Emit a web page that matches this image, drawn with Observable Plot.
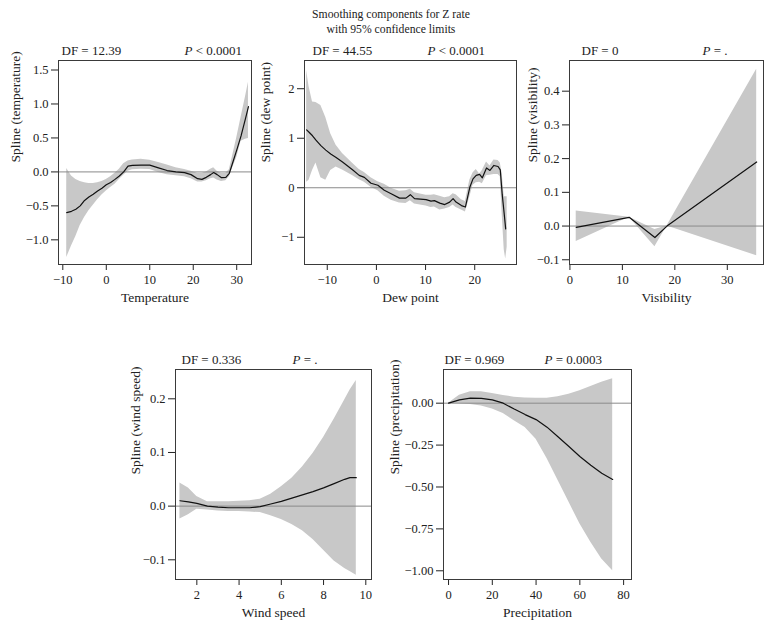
<!DOCTYPE html>
<html><head><meta charset="utf-8">
<script src="https://cdn.jsdelivr.net/npm/d3@7"></script>
<script src="https://cdn.jsdelivr.net/npm/@observablehq/plot@0.6"></script>
<style>
body{margin:0;background:#fff;}
#wrap{position:relative;width:772px;height:630px;overflow:hidden;font-family:"Liberation Serif",serif;color:#222;background:#fff;}
.title{position:absolute;left:0;top:8px;width:782px;text-align:center;font-size:11.7px;line-height:14.5px;}
.panel{position:absolute;}
</style></head><body><div id="wrap"><div class="title" id="title"></div></div>
<script>
// ---------- DATA ----------
const titleText = ["Smoothing components for Z rate", "with 95% confidence limits"];

// Temperature
const tempX   = [-9.1,-8,-7,-6,-5,-4,-3,-2,-1,0,1,2,3,4,5,6,8,10,12,14,16,18,19.5,21,22,23,24,24.7,25.5,26.5,27.5,28.3,29,30,31,32,32.7];
const tempFit = [-0.60,-0.58,-0.55,-0.50,-0.42,-0.37,-0.33,-0.28,-0.24,-0.19,-0.155,-0.11,-0.06,0.0,0.085,0.095,0.10,0.10,0.06,0.02,0.0,-0.01,-0.04,-0.10,-0.11,-0.08,-0.04,-0.01,-0.04,-0.085,-0.08,-0.02,0.12,0.32,0.53,0.78,0.96];
const tempHi  = [0.05,-0.06,-0.11,-0.14,-0.16,-0.17,-0.17,-0.16,-0.14,-0.11,-0.07,-0.02,0.04,0.12,0.16,0.175,0.185,0.17,0.14,0.10,0.06,0.035,0.01,-0.02,-0.02,0.0,0.04,0.06,0.01,-0.02,-0.02,0.03,0.22,0.50,0.80,1.10,1.32];
const tempLo  = [-1.26,-1.09,-0.95,-0.79,-0.67,-0.57,-0.49,-0.41,-0.34,-0.28,-0.23,-0.18,-0.11,-0.05,0.01,0.03,0.04,0.035,-0.01,-0.04,-0.055,-0.07,-0.10,-0.15,-0.15,-0.13,-0.10,-0.09,-0.12,-0.14,-0.13,-0.07,0.05,0.21,0.45,0.48,0.49];

// Dew point
const dewX   = [-14.2,-13.7,-13.0,-12.3,-11.3,-10.3,-9.3,-8.2,-6.9,-4.8,-3.5,-2.45,-1.1,0.3,1.6,3.0,4.7,6.0,6.9,7.75,10.1,11.1,11.8,12.9,13.9,14.9,15.6,16.2,17.3,18.1,19.0,19.65,20.3,21.0,21.55,22.4,23.1,23.9,24.75,25.2,25.6,26.0,26.3,26.6];
const dewFit = [1.17,1.12,1.05,0.96,0.85,0.76,0.68,0.61,0.52,0.36,0.25,0.21,0.09,0.05,-0.05,-0.12,-0.21,-0.21,-0.14,-0.22,-0.24,-0.27,-0.26,-0.31,-0.34,-0.29,-0.22,-0.29,-0.36,-0.39,0.01,0.18,0.25,0.27,0.20,0.40,0.35,0.45,0.43,0.36,-0.14,-0.53,-0.83,null];
const dewHi  = [2.37,2.04,1.73,1.72,1.66,1.42,1.09,0.86,0.69,0.49,0.37,0.31,0.20,0.12,0.07,-0.01,-0.07,-0.06,-0.03,-0.10,-0.15,-0.15,-0.14,-0.17,-0.20,-0.18,-0.12,-0.14,-0.24,-0.28,0.15,0.30,0.37,0.28,0.35,0.52,0.44,0.56,0.55,0.50,0.28,-0.18,-0.18,-0.18];
const dewLo  = [0.11,0.15,0.35,0.50,0.20,0.15,0.35,0.42,0.36,0.24,0.16,0.11,0.01,-0.06,-0.17,-0.25,-0.31,-0.32,-0.26,-0.33,-0.37,-0.40,-0.39,-0.45,-0.43,-0.40,-0.35,-0.40,-0.45,-0.49,-0.19,0.05,0.10,0.11,0.08,0.24,0.25,0.27,0.27,0.22,-0.55,-1.25,-1.44,-1.2];

// Visibility
const visX   = [1.2,11.3,16.2,18.5,35.6];
const visFit = [-0.004,0.026,-0.034,0.0,0.19];
const visHi  = [0.045,0.026,-0.01,0.0,0.465];
const visLo  = [-0.046,0.026,-0.061,0.0,-0.088];

// Wind speed
const windX   = [1.2,1.6,2.0,2.5,3.0,3.5,4.0,4.5,5.0,5.5,6.0,6.5,7.0,7.5,8.0,8.5,9.0,9.25,9.55];
const windFit = [0.010,0.008,0.005,0.0,-0.002,-0.003,-0.003,-0.003,-0.001,0.004,0.009,0.015,0.021,0.027,0.034,0.042,0.050,0.053,0.053];
const windHi  = [0.043,0.034,0.018,0.008,0.008,0.008,0.009,0.010,0.013,0.022,0.036,0.052,0.073,0.098,0.128,0.162,0.198,0.216,0.234];
const windLo  = [-0.024,-0.016,-0.006,-0.007,-0.009,-0.010,-0.010,-0.011,-0.012,-0.018,-0.025,-0.034,-0.046,-0.062,-0.082,-0.102,-0.116,-0.122,-0.129];

// Precipitation
const precX   = [0,5,10,15,20,25,30,35,40,45,50,55,60,65,70,75];
const precFit = [0,0.02,0.03,0.029,0.02,0.0,-0.035,-0.068,-0.098,-0.143,-0.200,-0.258,-0.318,-0.37,-0.418,-0.455];
const precHi  = [0,0.047,0.068,0.068,0.058,0.046,0.036,0.031,0.030,0.030,0.038,0.053,0.074,0.10,0.125,0.146];
const precLo  = [0,-0.004,-0.008,-0.017,-0.035,-0.062,-0.105,-0.145,-0.215,-0.33,-0.46,-0.59,-0.72,-0.83,-0.93,-1.0];

// Axis ticks and labels
const tempXTicks = [-10,0,10,20,30], tempYTicks = [-1.0,-0.5,0,0.5,1.0,1.5];
const dewXTicks = [-10,0,10,20], dewYTicks = [-1,0,1,2];
const visXTicks = [0,10,20,30], visYTicks = [-0.1,0,0.1,0.2,0.3,0.4];
const windXTicks = [2,4,6,8,10], windYTicks = [-0.1,0,0.1,0.2];
const precXTicks = [0,20,40,60,80], precYTicks = [-1,-0.75,-0.5,-0.25,0];
const xLabels = ["Temperature","Dew point","Visibility","Wind speed","Precipitation"];
const yLabels = ["Spline (temperature)","Spline (dew point)","Spline (visibility)","Spline (wind speed)","Spline (precipitation)"];
const dfLabels = ["DF = 12.39","DF = 44.55","DF = 0","DF = 0.336","DF = 0.969"];
const pLabels = ["P < 0.0001","P < 0.0001","P = .","P = .","P = 0.0003"];

// ---------- LAYOUT ----------
const FONT = '"Liberation Serif", serif';
const panels = [
  {L:58, R:251, T:60, B:264, xDomain:[-10.99,33.4], yDomain:[-1.363,1.64], x:tempX, fit:tempFit, lo:tempLo, hi:tempHi, xTicks:tempXTicks, yTicks:tempYTicks, yFmt:d3.format(".1f"), yOff:43, dfDx:3, pDx:126},
  {L:304, R:516, T:60, B:264, xDomain:[-14.63,28.5], yDomain:[-1.55,2.57], x:dewX, fit:dewFit, lo:dewLo, hi:dewHi, xTicks:dewXTicks, yTicks:dewYTicks, yFmt:d3.format("d"), yOff:39, dfDx:8, pDx:123},
  {L:569, R:763, T:60, B:264, xDomain:[-0.08,36.9], yDomain:[-0.114,0.491], x:visX, fit:visFit, lo:visLo, hi:visHi, xTicks:visXTicks, yTicks:visYTicks, yFmt:d3.format(".1f"), yOff:37, dfDx:12, pDx:133},
  {L:175, R:371, T:369, B:579, xDomain:[0.99,10.27], yDomain:[-0.1367,0.2546], x:windX, fit:windFit, lo:windLo, hi:windHi, xTicks:windXTicks, yTicks:windYTicks, yFmt:d3.format(".1f"), yOff:40, dfDx:6, pDx:117},
  {L:443, R:631, T:369, B:579, xDomain:[-2.3,83.6], yDomain:[-1.052,0.201], x:precX, fit:precFit, lo:precLo, hi:precHi, xTicks:precXTicks, yTicks:precYTicks, yFmt:d3.format(".2f"), yOff:49, dfDx:1, pDx:101}
];

const wrap = document.getElementById("wrap");
const titleDiv = document.getElementById("title");
titleText.forEach((t, i) => {
  if (i) titleDiv.appendChild(document.createElement("br"));
  titleDiv.appendChild(document.createTextNode(t));
});
const ML = 58, MR = 10, MT = 36, MB = 46;

panels.forEach((c, i) => {
  const rows = c.x.map((x, j) => ({x, fit: c.fit[j], lo: c.lo[j], hi: c.hi[j]}));
  const w = c.R - c.L, h = c.B - c.T;
  const svg = Plot.plot({
    width: w + ML + MR, height: h + MT + MB,
    marginLeft: ML, marginRight: MR, marginTop: MT, marginBottom: MB,
    style: {fontFamily: FONT, fontSize: "12.5px", color: "#222", background: "transparent", overflow: "visible"},
    x: {domain: c.xDomain, ticks: c.xTicks, tickFormat: d3.format("d"), tickSize: 6, tickPadding: 5, label: null},
    y: {domain: c.yDomain, ticks: c.yTicks, tickFormat: c.yFmt, tickSize: 7, tickPadding: 3, label: null},
    marks: [
      Plot.areaY(rows, {x: "x", y1: "lo", y2: "hi", fill: "#c8c8c8"}),
      Plot.ruleY([0], {stroke: "#8a8a8a", strokeWidth: 1}),
      Plot.line(rows, {x: "x", y: "fit", stroke: "#111", strokeWidth: 1.2}),
      Plot.frame({stroke: "#3a3a3a"}),
      Plot.text([yLabels[i]], {text: d => d, frameAnchor: "left", lineAnchor: "middle", rotate: -90, dx: -c.yOff, fontSize: 13.5}),
      Plot.text([xLabels[i]], {text: d => d, frameAnchor: "bottom", lineAnchor: "middle", dy: 33.5, fontSize: 13.5}),
      Plot.text([dfLabels[i]], {text: d => d, frameAnchor: "top-left", lineAnchor: "middle", textAnchor: "start", dx: c.dfDx, dy: -9.5, fontSize: 13}),
      Plot.text([pLabels[i]], {text: d => d, frameAnchor: "top-left", lineAnchor: "middle", textAnchor: "start", dx: c.pDx, dy: -9.5, fontSize: 13})
    ]
  });
  svg.classList.add("panel");
  svg.style.left = (c.L - ML) + "px";
  svg.style.top = (c.T - MT) + "px";
  svg.style.overflow = "visible";
  // italic P
  svg.querySelectorAll("text").forEach(t => {
    const s = t.textContent;
    if (s.startsWith("P ")) {
      const sel = d3.select(t);
      sel.text(null);
      sel.append("tspan").attr("font-style", "italic").text("P");
      sel.append("tspan").text(s.slice(1));
    }
  });
  wrap.appendChild(svg);
});
</script></body></html>
